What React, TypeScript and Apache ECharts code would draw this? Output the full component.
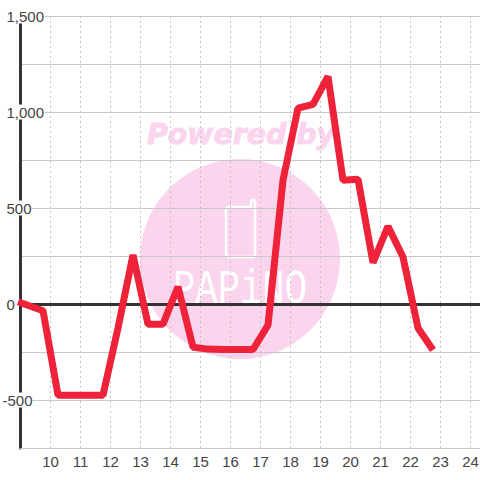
import React, { useEffect, useRef } from "react";
import * as echarts from "echarts";

const hours = [8.92, 9.75, 10.25, 10.75, 11.25, 11.75, 12.25, 12.75, 13.25, 13.75, 14.25, 14.75, 15.25, 15.75, 16.25, 16.75, 17.25, 17.75, 18.25, 18.75, 19.25, 19.75, 20.25, 20.75, 21.25, 21.75, 22.25, 22.75];
const values = [12, -35, -475, -475, -475, -475, -125, 255, -105, -105, 90, -225, -235, -237, -237, -237, -110, 645, 1020, 1040, 1185, 645, 650, 215, 405, 245, -125, -240];
const xTicks = [10, 11, 12, 13, 14, 15, 16, 17, 18, 19, 20, 21, 22, 23, 24];
const yLabels = [-500, 0, 500, 1000, 1500];
const watermarkTop = "Powered by";
const watermarkLogo = "PAPiNO";

const PHONE = "M249 207 H229 Q226 207 226 210 V254 Q226 257 229 257 H252 Q255 257 255 254 V203 Q255 200 253 200 Q251 200 251 203 V207 H249";
echarts.graphic.registerShape("phone", echarts.graphic.extendPath(PHONE, {}) as any);

const PINK = "#fbd5ee";
const FONT = "'Liberation Sans', Arial, sans-serif";

export default function App() {
  const ref = useRef<HTMLDivElement>(null);
  useEffect(() => {
    const chart = echarts.init(ref.current!, undefined, { renderer: "svg" });
    chart.setOption({
      animation: false,
      backgroundColor: "#ffffff",
      grid: { left: 20.5, right: 0, top: 16, bottom: 32, containLabel: false, outerBoundsMode: "none" },
      graphic: [
        { type: "circle", z: -1, shape: { cx: 240, cy: 259, r: 100 }, style: { fill: PINK } },
        { type: "text", z: -1, x: 241, y: 134, style: { text: watermarkTop, fill: PINK, stroke: PINK, lineWidth: 1, font: "italic bold 28.4px 'DejaVu Sans'", textAlign: "center", textVerticalAlign: "middle" } },
        { type: "phone", z: -1, style: { fill: "none", stroke: "#ffffff", lineWidth: 2.5 } },
        { type: "text", z: -1, x: 240, y: 290, scaleX: 0.775, style: { text: watermarkLogo, fill: "#ffffff", font: "48px 'Liberation Mono'", textAlign: "center", textVerticalAlign: "middle" } },
      ],
      xAxis: [
        {
          type: "value", min: 9, max: 24.3167, interval: 1, position: "bottom",
          axisLine: { onZero: false, show: true, lineStyle: { color: "#c8c8c8", width: 1 } },
          axisTick: { show: false },
          axisLabel: { customValues: xTicks, color: "#444", fontFamily: FONT, fontSize: 15, margin: 6 },
          splitLine: { show: true, showMaxLine: false, lineStyle: { color: "#c4c4c4", width: 1, type: [2, 3] } },
        },
        {
          type: "value", min: 9, max: 24.3167, position: "bottom",
          axisLine: { onZero: true, show: true, lineStyle: { color: "#333333", width: 3 } },
          axisTick: { show: false }, axisLabel: { show: false }, splitLine: { show: false },
        },
      ],
      yAxis: {
        type: "value", min: -750, max: 1500, interval: 250,
        axisLine: { show: true, onZero: false, lineStyle: { color: "#333333", width: 3 } },
        axisTick: { show: false },
        axisLabel: {
          customValues: yLabels, align: "left", margin: 18, color: "#444", fontFamily: FONT, fontSize: 15,
          backgroundColor: "#ffffff", showMinLabel: true, showMaxLabel: true,
          formatter: (v: number) => {
            const t = v.toLocaleString("en-US");
            return v < 0 ? t : `{p|${t}}`;
          },
          rich: { p: { padding: [0, 0, 0, 4], color: "#444", fontFamily: FONT, fontSize: 15 } },
        },
        splitLine: { show: true, lineStyle: { color: "#c8c8c8", width: 1 } },
      },
      series: [
        {
          type: "line", data: hours.map((h, i) => [h, values[i]]), showSymbol: false, clip: false, z: 5,
          lineStyle: { color: "#ee2238", width: 7, cap: "butt", join: "bevel" },
        },
      ],
    });
    return () => chart.dispose();
  }, []);
  return <div ref={ref} style={{ position: "fixed", left: 0, top: 0, width: 480, height: 480 }} />;
}
